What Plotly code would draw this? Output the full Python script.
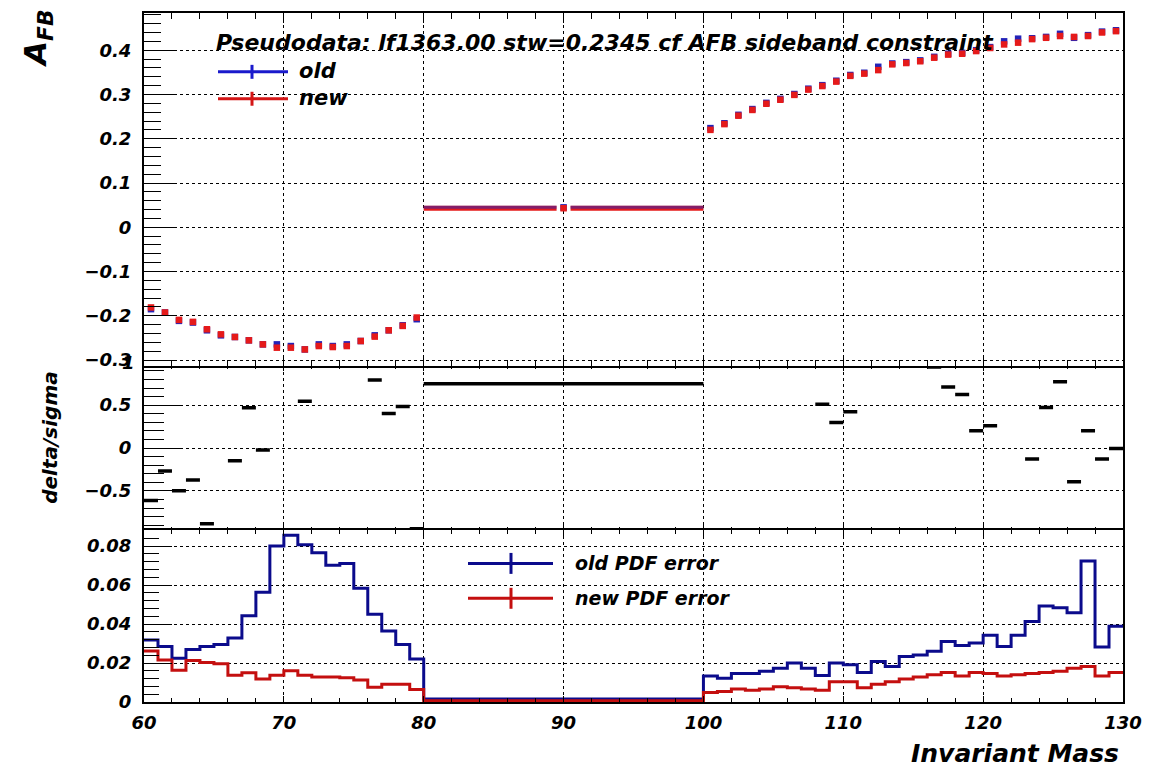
import plotly.graph_objects as go

# ---------------- data ----------------
bin_edges = list(range(60, 81)) + list(range(100, 131))  # 20 bins, one 80-100 bin, 30 bins

afb_old = [-0.185, -0.1925, -0.2114, -0.2152, -0.2327, -0.2441, -0.2478, -0.2554, -0.2645, -0.2645,
           -0.2683, -0.2759, -0.2645, -0.2683, -0.2645, -0.2569, -0.2441, -0.2327, -0.2214, -0.2077,
           0.045,
           0.224, 0.235, 0.254, 0.267, 0.281, 0.290, 0.301, 0.313, 0.321, 0.331,
           0.344, 0.349, 0.3625, 0.370, 0.373, 0.377, 0.385, 0.392, 0.394, 0.400,
           0.407, 0.420, 0.426, 0.427, 0.430, 0.437, 0.428, 0.434, 0.442, 0.445]
afb_new = [-0.1811, -0.1925, -0.2092, -0.2137, -0.2304, -0.2418, -0.2478, -0.2554, -0.2645, -0.272,
           -0.272, -0.2759, -0.2683, -0.2705, -0.2683, -0.2569, -0.247, -0.2327, -0.2228, -0.2039,
           0.043,
           0.220, 0.233, 0.252, 0.265, 0.279, 0.288, 0.299, 0.311, 0.319, 0.329,
           0.342, 0.347, 0.355, 0.368, 0.371, 0.375, 0.383, 0.390, 0.392, 0.398,
           0.405, 0.413, 0.417, 0.425, 0.428, 0.432, 0.430, 0.432, 0.440, 0.443]

nan = None
delta_sigma = [-0.613, -0.267, -0.497, -0.372, -0.884, nan, -0.148, 0.469, -0.023, nan,
               nan, 0.547, nan, nan, nan, nan, 0.794, 0.402, 0.484, -0.94,
               0.751,
               nan, nan, nan, nan, nan, nan, nan, nan, 0.512, 0.298,
               0.422, nan, nan, nan, nan, nan, 0.945, 0.713, 0.624, 0.201,
               0.259, nan, nan, -0.128, 0.472, 0.774, -0.392, 0.201, -0.128, -0.005]

pdf_err_old = [0.0318, 0.0285, 0.0225, 0.0269, 0.0285, 0.0295, 0.0328, 0.0443, 0.0563, 0.080,
               0.0855, 0.0807, 0.0766, 0.0702, 0.0711, 0.0583, 0.045, 0.0364, 0.0295, 0.022,
               0.0016,
               0.0133, 0.0122, 0.0146, 0.0146, 0.0158, 0.0173, 0.0200, 0.0173, 0.0136, 0.0200,
               0.0191, 0.0151, 0.0208, 0.0182, 0.0233, 0.0241, 0.0261, 0.0310, 0.0290, 0.0303,
               0.0343, 0.0285, 0.0343, 0.0413, 0.0492, 0.0483, 0.0458, 0.0724, 0.0282, 0.0388]
pdf_err_new = [0.0262, 0.0216, 0.0163, 0.0213, 0.0203, 0.0196, 0.0137, 0.0150, 0.0118, 0.0137,
               0.0160, 0.0137, 0.0128, 0.0128, 0.0124, 0.0113, 0.0076, 0.0091, 0.0091, 0.0064,
               0.0006,
               0.0049, 0.0054, 0.0067, 0.0060, 0.0067, 0.0078, 0.0073, 0.0067, 0.0060, 0.0104,
               0.0104, 0.0073, 0.0091, 0.0104, 0.0118, 0.0128, 0.0140, 0.0151, 0.0133, 0.0151,
               0.0146, 0.0133, 0.0140, 0.0146, 0.0151, 0.0158, 0.0173, 0.0182, 0.0133, 0.0151]

x_ticks = [60, 70, 80, 90, 100, 110, 120, 130]

title_text = "Pseudodata: lf1363.00 stw=0.2345 cf AFB sideband constraint"

# ---------------- styling ----------------
W, H = 1157, 772
L, R, T, B = 144, 34, 11, 70
PW, PH = W - L - R, H - T - B
RED_M, BLUE_M = "#e51a1a", "#2323b8"
RED_H, BLUE_H = "#c40f0f", "#0b0b8c"
FONT = "DejaVu Sans"


def px(x):
    return (x - L) / PW


def py(y):
    return (H - B - y) / PH


lo = bin_edges[:-1]
hi = bin_edges[1:]
centers = [(a + b) / 2 for a, b in zip(lo, hi)]

fig = go.Figure()

# ---- top panel: AFB points ----
GAP = 0.5
for vals, col, width, op in [(afb_new, RED_M, 5, 1.0), (afb_old, BLUE_M, 3, 0.5)]:
    sx, sy = [], []
    for a, b, c, v in zip(lo, hi, centers, vals):
        if b - a > 2 * GAP:
            sx += [a, c - GAP, None, c + GAP, b, None]
            sy += [v, v, None, v, v, None]
    fig.add_trace(go.Scatter(x=sx, y=sy, mode="lines", line=dict(color=col, width=width),
                             opacity=op, xaxis="x", yaxis="y", hoverinfo="skip"))
for vals, col in [(afb_old, BLUE_M), (afb_new, RED_M)]:
    fig.add_trace(go.Scatter(x=centers, y=vals, mode="markers",
                             marker=dict(symbol="square", size=6.5, color=col, line=dict(width=0)),
                             xaxis="x", yaxis="y"))

# ---- middle panel: delta/sigma ----
mx, my = [], []
for a, b, v in zip(lo, hi, delta_sigma):
    if v is None:
        continue
    mx += [a, b, None]
    my += [v, v, None]
fig.add_trace(go.Scatter(x=mx, y=my, mode="lines", line=dict(color="black", width=3.5),
                         xaxis="x2", yaxis="y2"))

# ---- bottom panel: PDF errors (histogram steps) ----
for vals, col in [(pdf_err_old, BLUE_H), (pdf_err_new, RED_H)]:
    hx, hy = [], []
    for a, b, v in zip(lo, hi, vals):
        hx += [a, b]
        hy += [v, v]
    fig.add_trace(go.Scatter(x=hx, y=hy, mode="lines", line=dict(color=col, width=3),
                             xaxis="x3", yaxis="y3"))

tickfont = dict(family=FONT, size=18, color="black", weight="bold", style="italic")

y_top = (py(365), 1.0)
y_mid = (py(529), py(365))
y_bot = (0.0, py(529))


def xaxis(anchor, show_labels, tl, mtl, showline=True):
    return dict(domain=[0, 1], anchor=anchor, range=[60, 130], tickvals=x_ticks,
                showticklabels=show_labels, ticks="inside", ticklen=tl, tickwidth=1.2,
                tickcolor="black", mirror="allticks", showline=showline, linecolor="black",
                linewidth=2, showgrid=True, gridcolor="black", griddash="dot", gridwidth=1,
                zeroline=False, tickfont=tickfont, ticklabelstandoff=3,
                minor=dict(dtick=2, tick0=60, ticks="inside", ticklen=mtl, tickcolor="black",
                           tickwidth=1.2, showgrid=False))


def yaxis(anchor, domain, rng, dtick, mdtick, tl, mtl):
    return dict(domain=list(domain), anchor=anchor, range=rng, dtick=dtick, tick0=0,
                ticks="inside", ticklen=tl, tickwidth=1.2, tickcolor="black", mirror=True,
                showline=True, linecolor="black", linewidth=2, showgrid=True,
                gridcolor="black", griddash="dot", gridwidth=1, zeroline=False,
                tickfont=tickfont, ticklabelstandoff=7,
                minor=dict(dtick=mdtick, tick0=0, ticks="inside", ticklen=mtl,
                           tickcolor="black", tickwidth=1.2, showgrid=False))


fig.update_layout(
    width=W, height=H, margin=dict(l=L, r=R, t=T, b=B),
    plot_bgcolor="white", paper_bgcolor="white", showlegend=False,
    xaxis=xaxis("y", False, 10, 6),
    xaxis2=xaxis("y2", False, 5, 3, showline=False),
    xaxis3=xaxis("y3", True, 6, 4),
    yaxis=yaxis("x", y_top, [-0.3133, 0.484], 0.1, 0.02, 32, 17),
    yaxis2=yaxis("x2", y_mid, [-0.95, 0.957], 0.5, 0.1, 38, 20),
    yaxis3=yaxis("x3", y_bot, [0, 0.0885], 0.02, 0.004, 28, 15),
)

ann = []
bi = dict(family=FONT, color="black", weight="bold", style="italic")
ann.append(dict(text=title_text, x=px(214), y=py(41), xref="paper", yref="paper",
                xanchor="left", yanchor="middle", showarrow=False, font=dict(size=22, **bi)))
ann.append(dict(text="old", x=px(297), y=py(69), xref="paper", yref="paper",
                xanchor="left", yanchor="middle", showarrow=False, font=dict(size=21, **bi)))
ann.append(dict(text="new", x=px(297), y=py(96), xref="paper", yref="paper",
                xanchor="left", yanchor="middle", showarrow=False, font=dict(size=21, **bi)))
ann.append(dict(text="old PDF error", x=px(573), y=py(563), xref="paper", yref="paper",
                xanchor="left", yanchor="middle", showarrow=False, font=dict(size=19, **bi)))
ann.append(dict(text="new PDF error", x=px(573), y=py(598), xref="paper", yref="paper",
                xanchor="left", yanchor="middle", showarrow=False, font=dict(size=19, **bi)))
ann.append(dict(text="A<sub>FB</sub>", x=px(38), y=py(37), xref="paper", yref="paper",
                xanchor="center", yanchor="middle", textangle=-90, showarrow=False,
                font=dict(size=31, **bi)))
ann.append(dict(text="delta/sigma", x=px(50), y=py(437), xref="paper", yref="paper",
                xanchor="center", yanchor="middle", textangle=-90, showarrow=False,
                font=dict(size=20, **bi)))
ann.append(dict(text="Invariant Mass", x=px(1121), y=py(754), xref="paper", yref="paper",
                xanchor="right", yanchor="middle", showarrow=False, font=dict(size=25, **bi)))
ann.append(dict(text="1", x=px(137), y=py(362), xref="paper", yref="paper",
                xanchor="right", yanchor="middle", showarrow=False, font=dict(size=18, **bi)))
fig.update_layout(annotations=ann)

shapes = []
for (x0, x1, yc, xt, th, col) in [(218, 288, 70, 252, 14, "#1a1acc"), (218, 288, 97, 252, 14, "#d41515"),
                                   (468, 553, 563, 511, 21, BLUE_H), (468, 553, 598, 511, 21, RED_H)]:
    shapes.append(dict(type="line", xref="paper", yref="paper", x0=px(x0), x1=px(x1),
                       y0=py(yc), y1=py(yc), line=dict(color=col, width=3)))
    shapes.append(dict(type="line", xref="paper", yref="paper", x0=px(xt), x1=px(xt),
                       y0=py(yc - th / 2), y1=py(yc + th / 2), line=dict(color=col, width=3)))
fig.update_layout(shapes=shapes)

fig.write_html("out.html")
